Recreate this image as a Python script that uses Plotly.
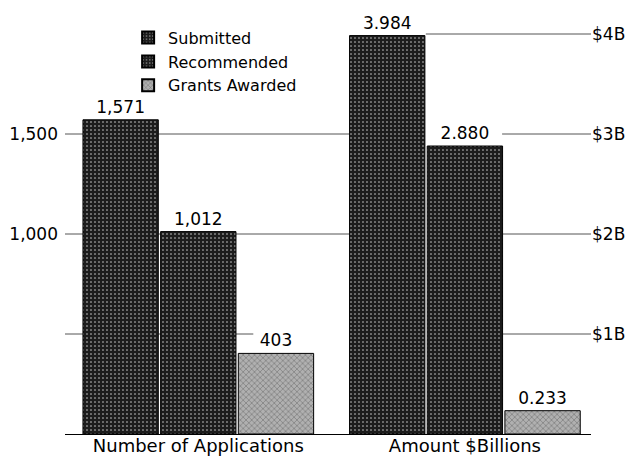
import plotly.graph_objects as go

groups = ["Number of Applications", "Amount $Billions"]
series = ["Submitted", "Recommended", "Grants Awarded"]
applications = [1571, 1012, 403]
amounts_billions = [3.984, 2.880, 0.233]

left_ticks = [500, 1000, 1500]
left_ticktext = ["", "1,000", "1,500"]
right_ticks = [1, 2, 3, 4]
right_ticktext = ["$1B", "$2B", "$3B", "$4B"]

FONT = "DejaVu Sans"
dark = dict(color="#1c1c1c",
            pattern=dict(shape=".", bgcolor="#1c1c1c", fgcolor="#d8d8d8", size=4, solidity=0.12,
                         fillmode="replace"))
grey = dict(color="#a8a8a8",
            pattern=dict(shape="x", bgcolor="#b0b0b0", fgcolor="#6a6a6a", size=4, solidity=0.25,
                         fillmode="replace"))
styles = [dark, dark, grey]

fig = go.Figure()
for i, name in enumerate(series):
    st = styles[i]
    fig.add_trace(go.Bar(
        x=[groups[0]], y=[applications[i]], name=name, legendgroup=name,
        offsetgroup=str(i), yaxis="y",
        marker=dict(color=st["color"], pattern=st["pattern"], line=dict(color="black", width=1)),
        text=[f"{applications[i]:,}"], textposition="outside", cliponaxis=False,
        textfont=dict(family=FONT, size=17, color="black"),
    ))
for i, name in enumerate(series):
    st = styles[i]
    fig.add_trace(go.Bar(
        x=[groups[1]], y=[amounts_billions[i]], name=name, legendgroup=name, showlegend=False,
        offsetgroup=str(i), yaxis="y2",
        marker=dict(color=st["color"], pattern=st["pattern"], line=dict(color="black", width=1)),
        text=[f"{amounts_billions[i]:.3f}"], textposition="outside", cliponaxis=False,
        textfont=dict(family=FONT, size=17, color="black"),
    ))

# guide lines (drawn below bars)
left_extent = {500: 0.358, 1000: 0.54, 1500: 0.54}
right_start = {1: 0.831, 2: 0.831, 3: 0.831, 4: 0.686}
shapes = []
for v in left_ticks:
    shapes.append(dict(type="line", xref="paper", yref="y", x0=0, x1=left_extent[v], y0=v, y1=v,
                       line=dict(color="#555555", width=1), layer="below"))
for v in right_ticks:
    shapes.append(dict(type="line", xref="paper", yref="y2", x0=right_start[v], x1=1, y0=v, y1=v,
                       line=dict(color="#555555", width=1), layer="below"))

fig.update_layout(
    template="none",
    width=626, height=458,
    margin=dict(l=65, r=35, t=24, b=24, autoexpand=False),
    paper_bgcolor="white", plot_bgcolor="white",
    barmode="group", bargap=0.126, bargroupgap=0.03,
    font=dict(family=FONT, size=17, color="black"),
    showlegend=True,
    legend=dict(x=0.12, y=1.008, xanchor="left", yanchor="top", bgcolor="rgba(255,255,255,0)",
                font=dict(family=FONT, size=16), tracegroupgap=0, itemsizing="constant",
                borderwidth=0),
    xaxis=dict(range=[-0.5, 1.473], showline=True, linecolor="black", linewidth=1, automargin=False,
               showgrid=False, zeroline=False, ticks="", ticklabelstandoff=-5,
               tickfont=dict(family=FONT, size=18)),
    yaxis=dict(range=[0, 2050], tickvals=left_ticks, ticktext=left_ticktext, showgrid=False,
               zeroline=False, showline=False, ticks="", ticklabelstandoff=6, automargin=False,
               tickfont=dict(family=FONT, size=17)),
    yaxis2=dict(range=[0, 4.1], overlaying="y", side="right", tickvals=right_ticks,
                ticktext=right_ticktext, showgrid=False, zeroline=False, showline=False,
                ticks="", ticklabelstandoff=0, automargin=False, tickfont=dict(family=FONT, size=17)),
    shapes=shapes,
)

fig.write_html("out.html", config={"displayModeBar": False},
               post_script="document.body.style.margin='0';")
